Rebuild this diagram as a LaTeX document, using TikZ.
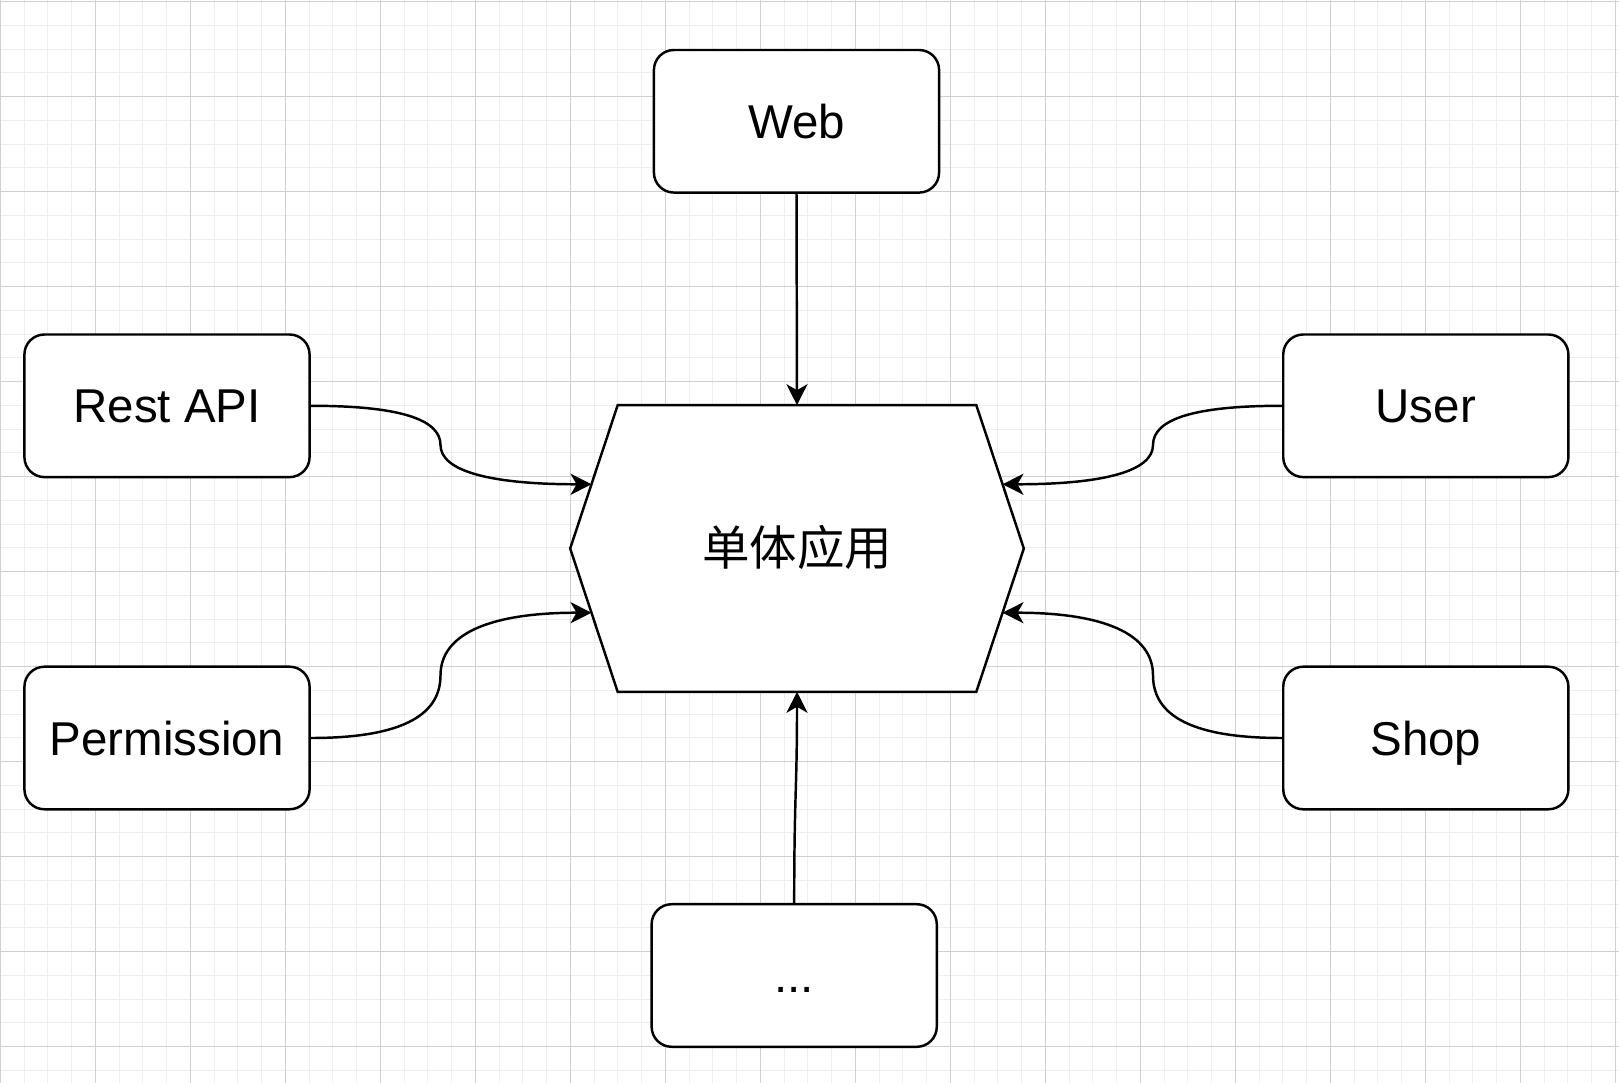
\documentclass[tikz,border=0pt]{standalone}
\usepackage{fontspec}
\setmainfont{Liberation Sans}
\newfontfamily\cjkfont{Noto Sans CJK SC}
\usetikzlibrary{arrows.meta,calc}
\definecolor{gridmajor}{HTML}{D0D0D0}
\definecolor{gridminor}{HTML}{EEEEEE}

\begin{document}
\begin{tikzpicture}[x=0.01cm,y=-0.01cm,
    module/.style={draw, line width=0.7pt, rounded corners=0.2cm, fill=white,
      minimum width=2.85cm, minimum height=1.425cm, inner sep=0pt,
      font=\fontsize{13.5pt}{15pt}\selectfont, text height=9.7pt, text depth=0pt},
    hexbox/.style={minimum width=4.52cm, minimum height=2.85cm, inner sep=0pt},
    hexline/.style={draw, line width=0.7pt, fill=white},
    hexlabel/.style={font=\fontsize{13.5pt}{15pt}\selectfont\cjkfont, text height=9.7pt, text depth=0pt, inner sep=0pt},
    conn/.style={line width=0.7pt, -{Stealth[length=0.21cm,width=0.21cm,inset=0.06cm]}}]

  % Background and grid
  \fill[white] (0,0) rectangle (1619,1083);
  \useasboundingbox (0,0) rectangle (1619,1083);
  \foreach \k in {0,...,68}
    \draw[gridminor, line width=0.3pt] ({0.3+23.75*\k},0) -- ({0.3+23.75*\k},1083);
  \foreach \k in {0,...,45}
    \draw[gridminor, line width=0.3pt] (0,{1.7+23.75*\k}) -- (1619,{1.7+23.75*\k});
  \foreach \k in {0,...,17}
    \draw[gridmajor, line width=0.3pt] ({0.3+95*\k},0) -- ({0.3+95*\k},1083);
  \foreach \k in {0,...,11}
    \draw[gridmajor, line width=0.3pt] (0,{1.7+95*\k}) -- (1619,{1.7+95*\k});

  % Central application
  \node[hexbox] (core) at (797,548.5) {};
  \draw[hexline] ($(core.north west)+(47.5,0)$) -- ($(core.north east)+(-47.5,0)$)
    -- (core.east) -- ($(core.south east)+(-47.5,0)$)
    -- ($(core.south west)+(47.5,0)$) -- (core.west) -- cycle;
  \node[hexlabel] (coreText) at (core.center) {单体应用};

  % Modules
  \node[module] (web)  at (796.5,121.3) {Web};
  \node[module] (rest) at (167,405.8) {Rest API};
  \node[module] (perm) at (167,738) {Permission};
  \node[module] (user) at (1425.8,405.8) {User};
  \node[module] (shop) at (1425.8,738) {Shop};
  \node[module] (more) at (794.2,975.5) {...};

  % Ports on the hexagon and bends
  \coordinate (inRest) at ($(core.west)+(21.4,-64.2)$);
  \coordinate (inPerm) at ($(core.west)+(21.4,64.2)$);
  \coordinate (inUser) at ($(core.east)+(-21.4,-64.2)$);
  \coordinate (inShop) at ($(core.east)+(-21.4,64.2)$);
  \coordinate (bendRest) at (440.5,445);
  \coordinate (bendPerm) at (440.5,675.4);
  \coordinate (bendUser) at (1153,445);
  \coordinate (bendShop) at (1153,675.4);

  % Connectors
  \draw[conn] (web.south) -- (core.north);
  \draw[conn] (more.north) .. controls +(0,-110) and +(0,100) .. (core.south);
  \draw[conn] (rest.east) .. controls +(87,0) and +(0,-26.2) .. (bendRest)
    .. controls +(0,26.2) and +(-101.3,0) .. (inRest);
  \draw[conn] (perm.east) .. controls +(87,0) and +(0,41.8) .. (bendPerm)
    .. controls +(0,-41.8) and +(-101.3,0) .. (inPerm);
  \draw[conn] (user.west) .. controls +(-86.9,0) and +(0,-26.2) .. (bendUser)
    .. controls +(0,26.2) and +(100.9,0) .. (inUser);
  \draw[conn] (shop.west) .. controls +(-86.9,0) and +(0,41.8) .. (bendShop)
    .. controls +(0,-41.8) and +(100.9,0) .. (inShop);
\end{tikzpicture}
\end{document}
